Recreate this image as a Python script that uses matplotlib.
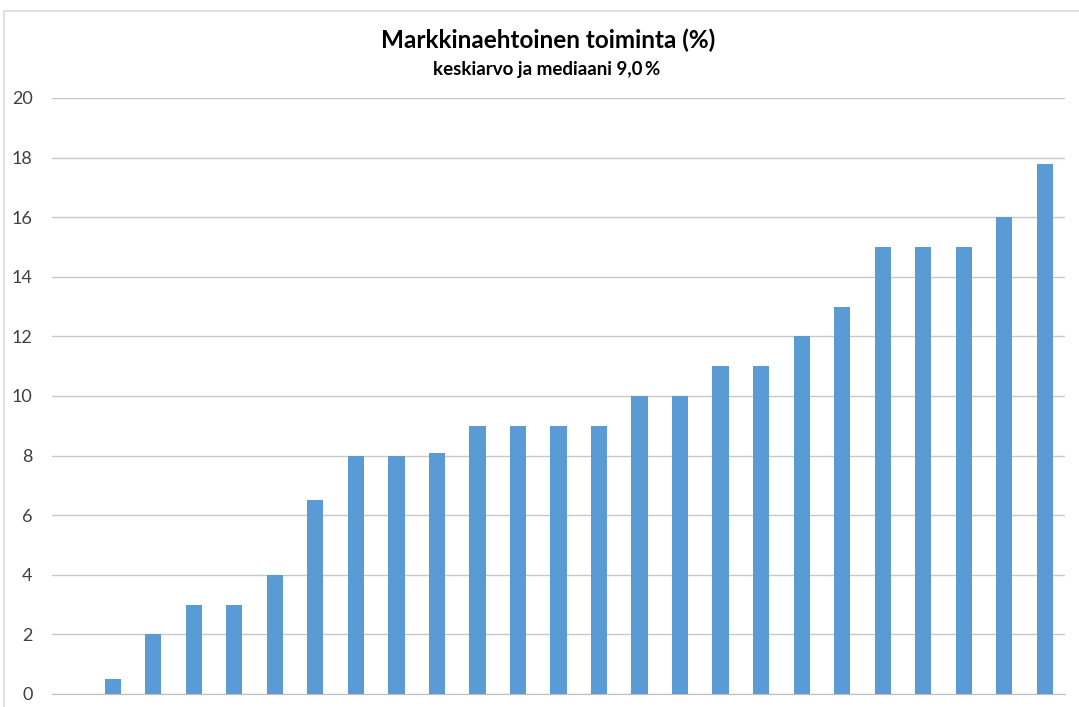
import numpy as np
import matplotlib.pyplot as plt
from matplotlib.patches import Rectangle

plt.rcParams['font.family'] = ['Lato', 'DejaVu Sans']

values = [0, 0.5, 2, 3, 3, 4, 6.5, 8, 8, 8.1, 9, 9, 9, 9, 10, 10,
          11, 11, 12, 13, 15, 15, 15, 16, 17.8]
x = np.arange(len(values))
yticks = [0, 2, 4, 6, 8, 10, 12, 14, 16, 18, 20]

fig = plt.figure(figsize=(10.79, 7.07), dpi=100)
fig.patches.append(Rectangle((4 / 1079, -0.01), 1.0, 1 - 11 / 707 + 0.01,
                             transform=fig.transFigure, fill=False,
                             edgecolor='#D9D9D9', linewidth=1.2))

ax = fig.add_axes([52 / 1079, 1 - 694 / 707, (1065 - 52) / 1079, (694 - 98) / 707])
ax.bar(x, values, width=0.4, color='#5B9BD5', zorder=3)
ax.set_xlim(-0.5, len(values) - 0.5)
ax.set_ylim(0, 20)
ax.set_yticks(yticks)
ax.set_xticks([])
ax.grid(axis='y', color='#C8C8C8', linewidth=1.0, zorder=0)
for s in ['top', 'right', 'left']:
    ax.spines[s].set_visible(False)
ax.spines['bottom'].set_color('#BFBFBF')
ax.tick_params(axis='y', length=0, labelsize=13, colors='#404040', pad=14)

fig.text(0.508, 1 - 40 / 707, 'Markkinaehtoinen toiminta (%)', ha='center',
         va='center', fontsize=17.5, fontweight='bold', color='black')
fig.text(0.507, 1 - 70 / 707, 'keskiarvo ja mediaani 9,0\u2009%', ha='center',
         va='center', fontsize=13.5, fontweight='bold', color='black')

fig.savefig('out.png', dpi=100)
